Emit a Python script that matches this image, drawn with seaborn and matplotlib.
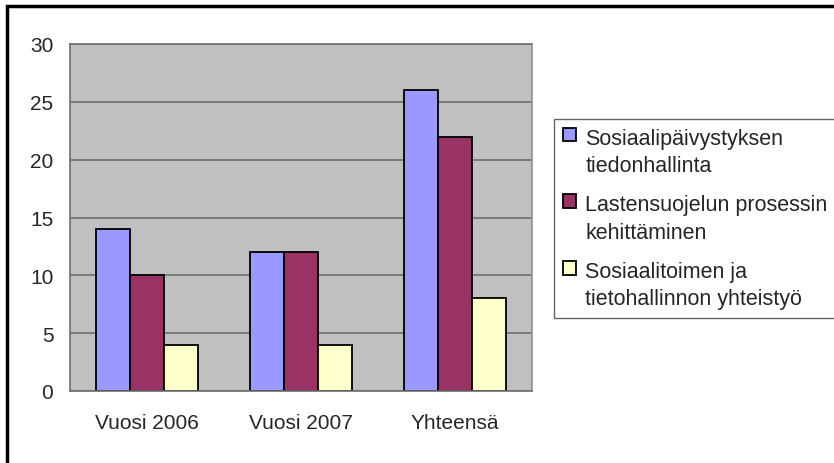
import numpy as np
import pandas as pd
import matplotlib
matplotlib.use('Agg')
import matplotlib.pyplot as plt
from matplotlib.patches import Rectangle
from matplotlib.ticker import MultipleLocator, FixedLocator
import seaborn as sns

# data
categories = ['Vuosi 2006', 'Vuosi 2007', 'Yhteensä']
series = ['Sosiaalipäivystyksen\ntiedonhallinta',
          'Lastensuojelun prosessin\nkehittäminen',
          'Sosiaalitoimen ja\ntietohallinnon yhteistyö']
sosiaalipaivystys = [14, 12, 26]
lastensuojelu = [10, 12, 22]
yhteistyo = [4, 4, 8]
colors = ['#9999FF', '#993366', '#FFFFCC']

rows = []
for name, vals in zip(series, [sosiaalipaivystys, lastensuojelu, yhteistyo]):
    for cat, v in zip(categories, vals):
        rows.append({'kategoria': cat, 'sarja': name, 'arvo': v})
df = pd.DataFrame(rows)

sns.set_style('white')
plt.rcParams['font.family'] = ['Liberation Sans', 'DejaVu Sans']

fig = plt.figure(figsize=(8.34, 4.64), dpi=100)
ax = fig.add_axes([70/834, 1-392/464, 462/834, 347/464])
ax.set_facecolor('#C0C0C0')

sns.barplot(data=df, x='kategoria', y='arvo', hue='sarja', order=categories,
            hue_order=series, palette=colors, width=0.66, edgecolor='black',
            linewidth=1.3, saturation=1, legend=False, ax=ax)

ax.set_xlim(-0.5, 2.5)
ax.set_ylim(0, 30)
ax.yaxis.set_major_locator(MultipleLocator(5))
ax.grid(axis='y', color='#6E6E6E', linewidth=1.2)
ax.set_axisbelow(True)
ax.set_xlabel('')
ax.set_ylabel('')

for side in ['left', 'bottom', 'top', 'right']:
    ax.spines[side].set_visible(True)
    ax.spines[side].set_color('#6E6E6E')
    ax.spines[side].set_linewidth(1.2)
ax.spines['right'].set_color('#909090')

ax.xaxis.set_minor_locator(FixedLocator([-0.5, 0.5, 1.5, 2.5]))
ax.tick_params(axis='x', which='major', length=0, pad=16, labelsize=15)
ax.tick_params(axis='x', which='minor', length=4, width=1.2, color='#6E6E6E', direction='out')
ax.tick_params(axis='y', length=4, width=1.2, color='#6E6E6E', direction='out', pad=8, labelsize=15)

leg = ax.legend(ax.containers, series, loc='upper left',
                bbox_to_anchor=(554/834, 1-120/464), bbox_transform=fig.transFigure,
                fontsize=15.5, frameon=True, fancybox=False, shadow=False,
                borderaxespad=0, borderpad=0.4, labelspacing=0.85,
                handlelength=0.6, handleheight=0.6, handletextpad=0.45)
leg.get_frame().set_edgecolor('#404040')
leg.get_frame().set_linewidth(1.0)
leg.get_frame().set_facecolor('white')
for t in leg.get_texts():
    t.set_linespacing(1.4)
for col in leg._legend_handle_box.get_children():
    for item in col.get_children():
        item.align = 'top'

# outer chart border (left and top visible)
fig.patches.append(Rectangle((6.5/834, -1), 2, 2 - 6.5/464, transform=fig.transFigure,
                             fill=False, edgecolor='black', linewidth=2.5))

fig.savefig('out.png', dpi=100)
